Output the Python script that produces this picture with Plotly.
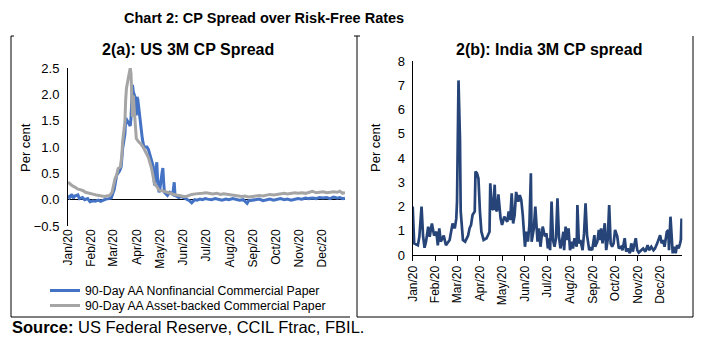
import plotly.graph_objects as go

# ---------------- data ----------------
us_nf_dates = ["2020-01-01","2020-01-03","2020-01-06","2020-01-08","2020-01-10","2020-01-14","2020-01-16","2020-01-20",
    "2020-01-23","2020-01-27","2020-01-30","2020-02-03","2020-02-06","2020-02-10","2020-02-13","2020-02-17","2020-02-20",
    "2020-02-24","2020-02-27","2020-03-02","2020-03-04","2020-03-05","2020-03-09","2020-03-11","2020-03-13","2020-03-16",
    "2020-03-17","2020-03-19","2020-03-20","2020-03-23","2020-03-24","2020-03-26","2020-03-27","2020-03-30","2020-03-31",
    "2020-04-01","2020-04-02","2020-04-03","2020-04-06","2020-04-08","2020-04-10","2020-04-14","2020-04-16","2020-04-18",
    "2020-04-21","2020-04-22","2020-04-23","2020-04-24","2020-04-27","2020-04-28","2020-04-30","2020-05-01","2020-05-04",
    "2020-05-05","2020-05-06","2020-05-07","2020-05-11","2020-05-14","2020-05-18","2020-05-20","2020-05-21","2020-05-26",
    "2020-05-29","2020-06-02","2020-06-05","2020-06-09","2020-06-12","2020-06-16","2020-06-19","2020-06-23","2020-06-26",
    "2020-06-30","2020-07-03","2020-07-08","2020-07-13","2020-07-17","2020-07-22","2020-07-27","2020-07-31","2020-08-05",
    "2020-08-10","2020-08-14","2020-08-19","2020-08-24","2020-08-26","2020-08-31","2020-09-04","2020-09-09","2020-09-14",
    "2020-09-18","2020-09-23","2020-09-28","2020-10-02","2020-10-07","2020-10-12","2020-10-16","2020-10-21","2020-10-26",
    "2020-10-30","2020-11-04","2020-11-09","2020-11-13","2020-11-18","2020-11-23","2020-11-27","2020-12-02","2020-12-07",
    "2020-12-11","2020-12-16","2020-12-21","2020-12-24","2020-12-28","2020-12-31"]
us_nf_values = [0.08,0.04,0.10,0.03,0.07,0.09,0.02,0.04,
    0.00,0.02,-0.04,-0.02,-0.03,-0.01,-0.03,0.00,0.01,
    0.02,0.03,0.20,0.35,0.46,0.55,0.62,0.97,1.25,
    1.55,1.50,1.45,1.40,1.55,2.18,2.05,1.92,1.60,
    1.95,1.90,1.75,1.35,1.15,1.00,1.00,0.95,0.84,
    0.70,0.65,0.50,0.27,0.71,0.40,0.14,0.20,0.52,
    0.60,0.35,0.14,0.08,0.14,0.10,0.33,0.08,0.04,
    0.06,0.03,0.01,-0.02,-0.06,0.00,-0.01,0.01,0.00,
    0.02,0.01,0.00,0.02,0.01,-0.01,0.01,0.00,0.02,
    0.01,-0.01,0.00,-0.07,-0.02,-0.01,0.00,0.01,-0.02,
    0.00,0.01,-0.01,0.00,0.02,0.00,0.01,-0.01,0.01,
    0.02,0.01,0.03,0.02,0.03,0.02,0.04,0.03,0.04,
    0.02,0.05,0.03,0.04,0.02,0.03]

us_ab_dates = ["2020-01-01","2020-01-03","2020-01-07","2020-01-10","2020-01-14","2020-01-17","2020-01-21","2020-01-24",
    "2020-01-28","2020-01-31","2020-02-04","2020-02-07","2020-02-11","2020-02-14","2020-02-18","2020-02-21","2020-02-25",
    "2020-02-28","2020-03-03","2020-03-05","2020-03-07","2020-03-10","2020-03-12","2020-03-13","2020-03-16","2020-03-17",
    "2020-03-18","2020-03-20","2020-03-23","2020-03-24","2020-03-25","2020-03-26","2020-03-27","2020-03-30","2020-03-31",
    "2020-04-03","2020-04-06","2020-04-09","2020-04-13","2020-04-16","2020-04-20","2020-04-22","2020-04-24","2020-04-27",
    "2020-04-30","2020-05-04","2020-05-08","2020-05-11","2020-05-15","2020-05-19","2020-05-22","2020-05-27","2020-06-01",
    "2020-06-05","2020-06-09","2020-06-12","2020-06-17","2020-06-22","2020-06-26","2020-07-01","2020-07-06","2020-07-10",
    "2020-07-15","2020-07-20","2020-07-24","2020-07-29","2020-08-03","2020-08-07","2020-08-12","2020-08-17","2020-08-21",
    "2020-08-26","2020-08-31","2020-09-04","2020-09-09","2020-09-14","2020-09-18","2020-09-23","2020-09-28","2020-10-02",
    "2020-10-07","2020-10-12","2020-10-16","2020-10-21","2020-10-26","2020-10-30","2020-11-04","2020-11-09","2020-11-13",
    "2020-11-18","2020-11-23","2020-11-27","2020-12-02","2020-12-07","2020-12-11","2020-12-16","2020-12-21","2020-12-24",
    "2020-12-28","2020-12-31"]
us_ab_values = [0.33,0.30,0.26,0.24,0.20,0.19,0.17,0.14,
    0.13,0.12,0.10,0.09,0.08,0.07,0.06,0.07,0.08,
    0.14,0.40,0.46,0.59,0.62,0.84,1.10,1.48,1.90,
    2.11,2.27,2.50,2.40,1.79,1.57,1.98,1.40,1.16,
    1.10,1.06,1.00,0.90,0.80,0.60,0.45,0.30,0.25,
    0.18,0.17,0.15,0.14,0.12,0.10,0.09,0.08,0.06,
    0.06,0.08,0.10,0.11,0.11,0.12,0.13,0.12,0.11,
    0.12,0.10,0.11,0.10,0.08,0.07,0.06,0.06,0.07,
    0.05,0.06,0.07,0.08,0.07,0.09,0.10,0.09,0.10,
    0.11,0.12,0.11,0.12,0.13,0.12,0.13,0.12,0.14,
    0.16,0.13,0.14,0.15,0.13,0.14,0.15,0.14,0.16,
    0.12,0.14]

india_dates = ["2020-01-01","2020-01-03","2020-01-08","2020-01-10","2020-01-13","2020-01-15","2020-01-17","2020-01-19",
    "2020-01-22","2020-01-24","2020-01-27","2020-01-30","2020-02-02","2020-02-04","2020-02-06","2020-02-08","2020-02-12",
    "2020-02-15","2020-02-20","2020-02-24","2020-02-27","2020-02-29","2020-03-01","2020-03-02","2020-03-03","2020-03-05",
    "2020-03-06","2020-03-09","2020-03-12","2020-03-16","2020-03-18","2020-03-20","2020-03-22","2020-03-25","2020-03-26",
    "2020-03-28","2020-03-30","2020-04-01","2020-04-03","2020-04-06","2020-04-10","2020-04-14","2020-04-15","2020-04-17",
    "2020-04-19","2020-04-21","2020-04-22","2020-04-24","2020-04-26","2020-04-29","2020-05-01","2020-05-04","2020-05-08",
    "2020-05-10","2020-05-12","2020-05-14","2020-05-16","2020-05-18","2020-05-20","2020-05-23","2020-05-25","2020-05-27",
    "2020-05-29","2020-06-01","2020-06-03","2020-06-05","2020-06-07","2020-06-09","2020-06-10","2020-06-13","2020-06-15",
    "2020-06-18","2020-06-20","2020-06-22","2020-06-25","2020-06-28","2020-06-30","2020-07-02","2020-07-04","2020-07-05",
    "2020-07-07","2020-07-09","2020-07-11","2020-07-13","2020-07-15","2020-07-17","2020-07-19","2020-07-21","2020-07-23",
    "2020-07-24","2020-07-26","2020-07-28","2020-07-30","2020-08-01","2020-08-03","2020-08-05","2020-08-07","2020-08-10",
    "2020-08-11","2020-08-13","2020-08-15","2020-08-18","2020-08-20","2020-08-22","2020-08-24","2020-08-27","2020-08-29",
    "2020-08-31","2020-09-03","2020-09-04","2020-09-07","2020-09-09","2020-09-11","2020-09-12","2020-09-14","2020-09-17",
    "2020-09-19","2020-09-21","2020-09-23","2020-09-25","2020-09-27","2020-09-29","2020-10-01","2020-10-04","2020-10-06",
    "2020-10-09","2020-10-11","2020-10-14","2020-10-16","2020-10-18","2020-10-21","2020-10-23","2020-10-25","2020-10-29",
    "2020-10-31","2020-11-02","2020-11-05","2020-11-08","2020-11-11","2020-11-14","2020-11-16","2020-11-19","2020-11-22",
    "2020-11-24","2020-11-27","2020-12-01","2020-12-03","2020-12-05","2020-12-07","2020-12-10","2020-12-12","2020-12-13",
    "2020-12-15","2020-12-16","2020-12-18","2020-12-20","2020-12-22","2020-12-24","2020-12-26","2020-12-28","2020-12-29",
    "2020-12-30","2020-12-31"]
india_values = [2.00,0.48,0.40,0.75,2.00,0.80,0.30,0.55,
    1.17,0.75,1.30,0.80,0.96,0.40,1.10,0.55,0.80,
    0.40,0.62,1.30,1.10,1.50,2.20,5.50,7.20,4.80,
    1.80,0.62,0.55,0.80,1.10,1.24,1.65,1.80,3.44,
    3.37,3.16,1.80,0.96,0.62,0.69,0.96,2.96,1.92,
    1.86,2.90,1.92,1.80,2.50,1.50,1.24,1.58,1.37,
    1.80,1.44,2.54,1.30,1.65,2.60,2.20,2.47,2.27,
    1.65,0.34,0.96,0.55,1.24,3.37,0.55,1.10,2.00,
    0.55,1.10,0.34,1.17,0.76,0.90,0.27,0.69,0.20,
    2.20,0.62,0.34,0.69,2.34,0.76,0.27,0.55,0.96,
    0.20,1.17,0.62,1.10,0.20,0.55,0.27,0.69,0.34,
    2.06,0.48,0.62,0.20,0.90,2.13,0.82,0.20,0.27,
    0.20,0.82,0.34,0.55,1.03,0.62,1.10,0.48,1.31,
    0.20,0.62,2.06,0.48,0.34,0.48,1.03,0.76,0.27,
    0.34,0.20,0.69,0.14,0.27,0.07,0.48,0.14,0.69,
    0.20,0.10,0.20,0.27,0.14,0.41,0.20,0.34,0.20,
    0.27,0.48,0.82,0.48,0.62,0.34,0.96,1.03,0.20,
    1.58,0.90,0.07,0.34,0.07,0.41,0.27,0.48,0.62,
    1.50,0.62]

us_names = ["90-Day AA Nonfinancial Commercial Paper", "90-Day AA Asset-backed Commercial Paper"]
main_title = "Chart 2: CP Spread over Risk-Free Rates"
sub_a = "2(a): US 3M CP Spread"
sub_b = "2(b): India 3M CP spread"
y_title = "Per cent"
source_bold = "Source:"
source_text = " US Federal Reserve, CCIL Ftrac, FBIL."

# ---------------- figure ----------------
# the page body has an 8px margin, so the figure is drawn 8px right/down
OFF = 8
W, H = 696, 342
FONT = "Liberation Sans, Arial, sans-serif"

def px(x):
    return (x - OFF) / W

def py(y):
    return 1 - (y - OFF) / H

fig = go.Figure()
fig.add_trace(go.Scatter(x=us_nf_dates, y=us_nf_values, mode="lines", name=us_names[0],
                         line=dict(color="#4472C4", width=3), xaxis="x", yaxis="y", legend="legend"))
fig.add_trace(go.Scatter(x=us_ab_dates, y=us_ab_values, mode="lines", name=us_names[1],
                         line=dict(color="#A5A5A5", width=3), xaxis="x", yaxis="y", legend="legend2"))
fig.add_trace(go.Scatter(x=india_dates, y=india_values, mode="lines", name="India",
                         line=dict(color="#264478", width=2.7), xaxis="x2", yaxis="y2", showlegend=False))

tickfont = dict(family=FONT, size=12, color="black")
fig.update_layout(
    template="none",
    width=W, height=H, margin=dict(l=0, r=0, t=0, b=0, pad=0, autoexpand=False),
    paper_bgcolor="white", plot_bgcolor="white",
    font=dict(family=FONT, color="black"),
    xaxis=dict(domain=[px(68), px(345)], range=["2020-01-01", "2020-12-31"], type="date",
               dtick="M1", tick0="2020-01-01", tickformat="%b/%y", tickangle=-90,
               tickfont=tickfont, showgrid=False, showline=False, ticks="", zeroline=False,
               anchor="y", automargin=False),
    yaxis=dict(domain=[py(226), py(68)], range=[-0.5, 2.5], dtick=0.5, tickformat=".1f",
               tickfont=dict(family=FONT, size=13, color="black"), showgrid=False,
               showline=True, linecolor="black", linewidth=1, ticks="", ticklabelstandoff=5,
               zeroline=True, zerolinecolor="black", zerolinewidth=1, anchor="x", automargin=False),
    xaxis2=dict(domain=[px(412.7), px(682.3)], range=["2020-01-01", "2020-12-31"], type="date",
                dtick="M1", tick0="2020-01-01", tickformat="%b/%y", tickangle=-90,
                tickfont=tickfont, showgrid=False, showline=True, linecolor="black", linewidth=1,
                ticks="outside", ticklen=5, tickcolor="black", zeroline=False, anchor="y2", automargin=False),
    yaxis2=dict(domain=[py(255), py(61)], range=[0, 8], dtick=1,
                tickfont=dict(family=FONT, size=13, color="black"), showgrid=False,
                showline=True, linecolor="black", linewidth=1, ticks="", ticklabelstandoff=4,
                zeroline=False, anchor="x2", automargin=False),
    legend=dict(x=px(45), y=py(276), xanchor="left", yanchor="top", bgcolor="rgba(0,0,0,0)",
                font=dict(family=FONT, size=12.3, color="black"), itemwidth=30,
                tracegroupgap=0, borderwidth=0),
    legend2=dict(x=px(45), y=py(291), xanchor="left", yanchor="top", bgcolor="rgba(0,0,0,0)",
                 font=dict(family=FONT, size=12.3, color="black"), itemwidth=30,
                 tracegroupgap=0, borderwidth=0),
)

ann = []
def add_text(text, x, y, size, xanchor="center", yanchor="middle", angle=0, family=FONT):
    ann.append(dict(text=text, x=px(x), y=py(y), xref="paper", yref="paper",
                    xanchor=xanchor, yanchor=yanchor, textangle=angle, showarrow=False, borderpad=0,
                    font=dict(family=family, size=size, color="black")))

add_text("<b>" + main_title + "</b>", 264, 8.5, 14.5, yanchor="top")
add_text("<b>" + sub_a + "</b>", 188, 50, 16)
add_text("<b>" + sub_b + "</b>", 549, 50, 16)
add_text(y_title, 25, 148, 13, angle=-90)
add_text(y_title, 375, 147, 13, angle=-90)
add_text("<b>" + source_bold + "</b>" + source_text, 11, 327, 16.5, xanchor="left")
fig.update_layout(annotations=ann)

line = dict(color="black", width=1)
shapes = [
    dict(type="line", xref="paper", yref="paper", x0=px(11), x1=px(11), y0=py(36), y1=py(317), line=line),
    dict(type="line", xref="paper", yref="paper", x0=px(357), x1=px(357), y0=py(36), y1=py(317), line=line),
    dict(type="line", xref="paper", yref="paper", x0=px(693), x1=px(693), y0=py(36), y1=py(317), line=line),
    dict(type="line", xref="paper", yref="paper", x0=px(11), x1=px(350), y0=py(317), y1=py(317), line=line),
    dict(type="line", xref="paper", yref="paper", x0=px(357), x1=px(693), y0=py(317), y1=py(317), line=line),
    dict(type="line", xref="paper", yref="paper", x0=px(11), x1=px(14), y0=py(36), y1=py(36), line=line),
    dict(type="line", xref="paper", yref="paper", x0=px(354), x1=px(360), y0=py(36), y1=py(36), line=line),
]
fig.update_layout(shapes=shapes)

fig.write_html("out.html")
